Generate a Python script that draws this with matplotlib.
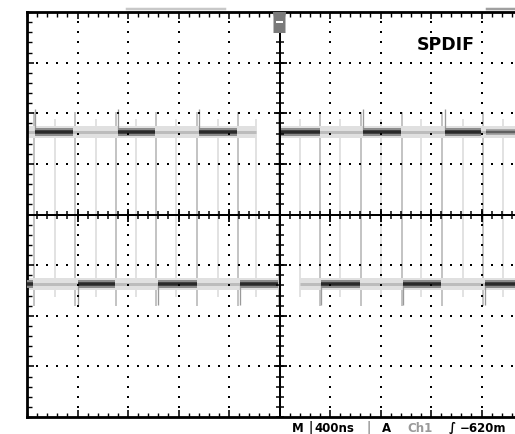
import matplotlib
matplotlib.use("Agg")
import matplotlib.pyplot as plt
import numpy as np
from matplotlib.patches import Polygon, Rectangle

# ---------------- data (time in ns relative to trigger, amplitude in divisions)
NS_PER_DIV = 400
top_level = 1.63
bottom_level = -1.37

top_dark_start = [-1937, -1279, -638, 12, 661, 1311]
top_dark_end = [-1636, -986, -337, 321, 962, 1596]
top_medium_start = [1636]
top_medium_end = [2000]
bottom_dark_start = [-2000, -1596, -962, -313, 329, 978, 1628]
bottom_dark_end = [-1952, -1303, -653, -12, 638, 1279, 2000]
top_faint_start = [-2000, 0]
top_faint_end = [-186, 2000]
bottom_faint_start = [-2000, 162]
bottom_faint_end = [-12, 2000]
strong_edges = [-1944, -1620, -1295, -978, -653, -329, -4, 321, 646, 970, 1287, 1612]
faint_edges = [-1778, -1453, -1137, -820, -487, -186, 162, 479, 804, 1121, 1453, 1770]
top_spikes = [-1937, -1279, -638, 661, 1311]
bottom_spikes = [-1596, -962, -313, 329, 978, 1628]

title_text = "SPDIF"
status_texts = ["M", "|", "400ns", "|", "A", "Ch1", "\u222b", "\u2212620m"]

# ---------------- figure
W, H = 515, 434
DPI = 100
PX = 72 / DPI  # points per pixel
fig = plt.figure(figsize=(W / DPI, H / DPI), dpi=DPI)
fig.patch.set_facecolor("white")
ax = fig.add_axes([27 / W, 17 / H, 505 / W, 405 / H])
ax.set_xlim(-5 * NS_PER_DIV, 5 * NS_PER_DIV)
ax.set_ylim(-4, 4)

# edges (transitions)
ax.vlines(faint_edges, -1.62, 1.88, color="#e2e2e2", lw=2 * PX, zorder=1)
ax.vlines(strong_edges, -1.80, 2.02, color="#c4c4c4", lw=2 * PX, zorder=1)
ax.vlines(top_spikes, top_level, top_level + 0.45, color="#9a9a9a", lw=1.3 * PX, zorder=3)
ax.vlines(bottom_spikes, bottom_level - 0.42, bottom_level, color="#9a9a9a", lw=1.3 * PX, zorder=3)

# faint persistence bands
for lvl, s, e in [(top_level, top_faint_start, top_faint_end),
                  (bottom_level, bottom_faint_start, bottom_faint_end)]:
    ax.hlines([lvl] * len(s), s, e, color="#e0e0e0", lw=12 * PX, zorder=2)
    ax.hlines([lvl] * len(s), s, e, color="#bcbcbc", lw=3 * PX, zorder=2)

# medium trace
ax.hlines([top_level] * len(top_medium_start), top_medium_start, top_medium_end,
          color="#a8a8a8", lw=6 * PX, zorder=3)
ax.hlines([top_level] * len(top_medium_start), top_medium_start, top_medium_end,
          color="#606060", lw=2.5 * PX, zorder=3)

# dark traces
for lvl, s, e in [(top_level, top_dark_start, top_dark_end),
                  (bottom_level, bottom_dark_start, bottom_dark_end)]:
    ax.hlines([lvl] * len(s), s, e, color="#8c8c8c", lw=8 * PX, zorder=4)
    ax.hlines([lvl] * len(s), s, e, color="#2a2a2a", lw=3.5 * PX, zorder=4)

# dotted graticule
major_x = np.arange(-4, 5) * NS_PER_DIV
major_y = np.arange(-3, 4)
minor_x = np.arange(-25, 26) * NS_PER_DIV / 5
minor_y = np.arange(-20, 21) / 5
for mx in major_x:
    if mx == 0:
        continue
    ax.scatter(np.full(minor_y.size, mx), minor_y, s=2.0, marker="s", c="black",
               linewidths=0, zorder=5)
for my in major_y:
    if my == 0:
        continue
    ax.scatter(minor_x, np.full(minor_x.size, my), s=2.0, marker="s", c="black",
               linewidths=0, zorder=5)

# center cross with ticks
ax.axhline(0, color="black", lw=2 * PX, zorder=6)
ax.axvline(0, color="black", lw=2 * PX, zorder=6)
ax.plot(minor_x, np.zeros(minor_x.size), ls="none", marker="|", ms=8 * PX,
        mew=1.5 * PX, color="black", zorder=6)
ax.plot(major_x, np.zeros(major_x.size), ls="none", marker="|", ms=13 * PX,
        mew=1.8 * PX, color="black", zorder=6)
ax.plot(np.zeros(minor_y.size), minor_y, ls="none", marker="_", ms=8 * PX,
        mew=1.5 * PX, color="black", zorder=6)
ax.plot(np.zeros(major_y.size), major_y, ls="none", marker="_", ms=13 * PX,
        mew=1.8 * PX, color="black", zorder=6)

# border ticks
ax.set_xticks(major_x)
ax.set_yticks(major_y)
ax.set_xticks(minor_x, minor=True)
ax.set_yticks(minor_y, minor=True)
ax.tick_params(which="both", direction="in", top=True, right=True,
               labelleft=False, labelbottom=False, color="black")
ax.tick_params(which="major", length=7 * PX, width=1.6 * PX)
ax.tick_params(which="minor", length=4.5 * PX, width=1.4 * PX)
for sp in ax.spines.values():
    sp.set_linewidth(2.8 * PX)
    sp.set_color("black")

# trigger marker
def y_of_px(py):
    return 4 - (py - 12) / 50.6

hw = 6 / 50.5 * NS_PER_DIV
ax.add_patch(Polygon([[-hw * 1.1, y_of_px(12)], [hw * 1.1, y_of_px(12)],
                      [hw, y_of_px(17)], [hw, y_of_px(33)], [-hw, y_of_px(33)],
                      [-hw, y_of_px(17)]], closed=True, facecolor="#7a7a7a",
                     edgecolor="none", zorder=8, clip_on=False))
ax.add_patch(Rectangle((-hw * 0.55, y_of_px(23)), hw * 1.1, (y_of_px(21) - y_of_px(23)),
                       facecolor="white", edgecolor="none", zorder=9))

# top record bars
fig.add_artist(plt.Line2D([127 / W, 225 / W], [1 - 9 / H] * 2, color="#c8c8c8", lw=2.5 * PX))
fig.add_artist(plt.Line2D([487 / W, 1.0], [1 - 9 / H] * 2, color="#a0a0a0", lw=2.5 * PX))

# texts
fig.text(417 / W, 1 - 45 / H, title_text, fontsize=12.5, fontweight="bold",
         family=["DejaVu Sans"], ha="left", va="center", color="black")

status_x = [292, 309, 314, 366, 382, 407, 449, 460]
status_c = ["black", "black", "black", "#888888", "black", "#9a9a9a", "black", "black"]
for x, t, c in zip(status_x, status_texts, status_c):
    fig.text(x / W, 1 - 428 / H, t, fontsize=8.5, fontweight="bold",
             family=["DejaVu Sans"], ha="left", va="center", color=c)

fig.savefig("out.png", dpi=DPI)
